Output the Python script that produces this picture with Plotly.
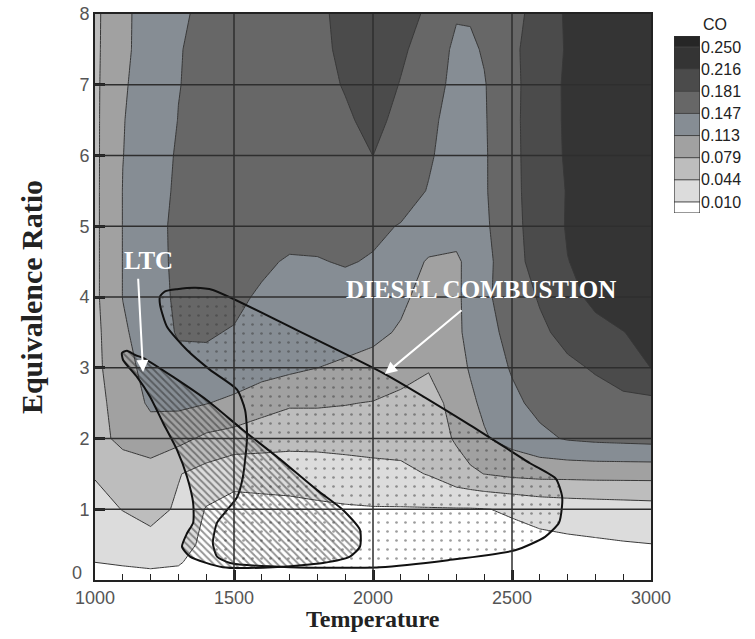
import plotly.graph_objects as go

# Temperature (K) grid columns and equivalence-ratio grid rows
TEMPERATURE = [1000, 1100, 1200, 1300, 1400, 1500, 1600, 1700, 1800, 1900, 2000,
               2100, 2200, 2300, 2350, 2400, 2500, 2600, 2700, 2800, 2900, 3000]
EQUIV_RATIO = [0, 0.25, 0.5, 1, 1.5, 2, 2.5, 3, 3.5, 4, 4.5, 5, 5.5, 6, 6.5, 7, 7.5, 8]

# CO mass fraction, one row per equivalence ratio
CO = [
    [0.002, 0.002, 0.003, 0.002, 0, 0, 0, 0, 0, 0, 0, 0, 0, 0, 0, 0, 0, 0, 0, 0, 0, 0],
    [0.010, 0.012, 0.014, 0.012, 0, 0, 0, 0, 0, 0, 0, 0, 0, 0, 0, 0, 0, 0, 0.001, 0.002, 0.003, 0.004],
    [0.025, 0.030, 0.033, 0.025, 0.001, 0, 0, 0, 0, 0, 0, 0, 0, 0, 0, 0, 0.001, 0.002, 0.004, 0.006, 0.008, 0.0095],
    [0.036, 0.045, 0.055, 0.040, 0.008, 0.002, 0.003, 0.004, 0.006, 0.007, 0.008, 0.008, 0.008, 0.008, 0.008, 0.009, 0.013, 0.020, 0.024, 0.026, 0.028, 0.030],
    [0.046, 0.058, 0.064, 0.046, 0.032, 0.018, 0.019, 0.020, 0.022, 0.028, 0.033, 0.036, 0.046, 0.066, 0.073, 0.079, 0.086, 0.089, 0.089, 0.090, 0.090, 0.090],
    [0.066, 0.088, 0.097, 0.088, 0.072, 0.066, 0.062, 0.058, 0.058, 0.058, 0.058, 0.058, 0.062, 0.082, 0.095, 0.110, 0.125, 0.140, 0.150, 0.154, 0.156, 0.158],
    [0.068, 0.093, 0.118, 0.120, 0.114, 0.105, 0.090, 0.082, 0.082, 0.080, 0.077, 0.070, 0.070, 0.086, 0.108, 0.118, 0.140, 0.156, 0.166, 0.171, 0.172, 0.172],
    [0.070, 0.102, 0.124, 0.138, 0.140, 0.136, 0.128, 0.120, 0.113, 0.108, 0.104, 0.092, 0.080, 0.104, 0.115, 0.128, 0.150, 0.163, 0.176, 0.184, 0.200, 0.216],
    [0.070, 0.108, 0.130, 0.150, 0.150, 0.145, 0.135, 0.130, 0.128, 0.125, 0.119, 0.110, 0.098, 0.108, 0.120, 0.138, 0.155, 0.176, 0.190, 0.205, 0.215, 0.225],
    [0.072, 0.1135, 0.128, 0.155, 0.160, 0.155, 0.142, 0.136, 0.133, 0.132, 0.128, 0.118, 0.103, 0.108, 0.122, 0.140, 0.165, 0.184, 0.205, 0.224, 0.232, 0.236],
    [0.072, 0.1135, 0.128, 0.158, 0.160, 0.158, 0.154, 0.143, 0.145, 0.150, 0.144, 0.128, 0.110, 0.110, 0.118, 0.135, 0.172, 0.192, 0.215, 0.226, 0.234, 0.238],
    [0.072, 0.1135, 0.127, 0.160, 0.162, 0.163, 0.163, 0.163, 0.160, 0.158, 0.155, 0.145, 0.132, 0.120, 0.122, 0.140, 0.176, 0.190, 0.219, 0.228, 0.236, 0.240],
    [0.072, 0.1135, 0.126, 0.155, 0.160, 0.162, 0.163, 0.164, 0.166, 0.168, 0.170, 0.165, 0.145, 0.128, 0.128, 0.143, 0.176, 0.192, 0.218, 0.231, 0.238, 0.242],
    [0.072, 0.1125, 0.125, 0.152, 0.160, 0.163, 0.165, 0.167, 0.170, 0.175, 0.1815, 0.170, 0.152, 0.128, 0.128, 0.143, 0.176, 0.193, 0.221, 0.232, 0.239, 0.243],
    [0.072, 0.112, 0.123, 0.148, 0.159, 0.163, 0.165, 0.168, 0.172, 0.178, 0.188, 0.175, 0.157, 0.130, 0.130, 0.144, 0.176, 0.194, 0.222, 0.233, 0.240, 0.244],
    [0.072, 0.110, 0.125, 0.146, 0.158, 0.162, 0.165, 0.168, 0.174, 0.183, 0.196, 0.180, 0.163, 0.137, 0.134, 0.145, 0.175, 0.195, 0.222, 0.233, 0.240, 0.244],
    [0.072, 0.106, 0.128, 0.145, 0.158, 0.163, 0.166, 0.170, 0.176, 0.186, 0.198, 0.186, 0.169, 0.140, 0.142, 0.150, 0.178, 0.190, 0.220, 0.233, 0.240, 0.244],
    [0.072, 0.104, 0.131, 0.140, 0.157, 0.162, 0.165, 0.170, 0.175, 0.190, 0.200, 0.190, 0.178, 0.150, 0.150, 0.160, 0.176, 0.188, 0.222, 0.235, 0.240, 0.245],
]

# Contour levels shown in the legend
CO_LEVELS = [0.010, 0.044, 0.079, 0.113, 0.147, 0.181, 0.216, 0.250]
# Flood colours from below the lowest level up to above the highest level
BAND_COLORS = ["#ffffff", "#dcdcdc", "#bdbdbd", "#a1a1a1", "#868d94",
               "#676767", "#4b4b4b", "#343434", "#262626"]

# Combustion regime outlines (temperature, equivalence ratio)
DIESEL_T = [1234, 1234, 1252, 1295, 1360, 1424, 1737, 2043, 2349, 2565, 2658, 2680,
            2680, 2669, 2619, 2511, 2270, 2025, 1701, 1486, 1439, 1424, 1439, 1475,
            1511, 1532, 1547, 1540, 1511, 1414, 1331, 1259, 1234]
DIESEL_PHI = [3.89, 4.01, 4.08, 4.11, 4.13, 4.10, 3.51, 2.91, 2.19, 1.65, 1.43, 1.19,
              1.05, 0.81, 0.61, 0.42, 0.28, 0.18, 0.18, 0.24, 0.33, 0.52, 0.81, 0.99,
              1.17, 1.46, 2.02, 2.40, 2.69, 2.97, 3.25, 3.58, 3.89]
LTC_T = [1097, 1115, 1144, 1173, 1281, 1403, 1532, 1655, 1799, 1892, 1953, 1953,
         1917, 1820, 1640, 1460, 1342, 1313, 1331, 1353, 1353, 1331, 1295, 1245,
         1198, 1151, 1101, 1097]
LTC_PHI = [3.21, 3.24, 3.18, 3.14, 2.87, 2.54, 2.12, 1.74, 1.27, 0.99, 0.71, 0.47,
           0.33, 0.24, 0.18, 0.18, 0.33, 0.47, 0.66, 0.81, 1.09, 1.46, 1.84, 2.22,
           2.59, 2.87, 3.11, 3.21]

X_TICKS = [1000, 1500, 2000, 2500, 3000]
Y_TICKS = [0, 1, 2, 3, 4, 5, 6, 7, 8]

level_step = (CO_LEVELS[-1] - CO_LEVELS[0]) / (len(CO_LEVELS) - 1)
level_values = [CO_LEVELS[0] + k * level_step for k in range(len(CO_LEVELS))]
n_bands = len(BAND_COLORS) - 1
colorscale = [[k / n_bands, c] for k, c in enumerate(BAND_COLORS)]
legend_lo = level_values[0] - level_step / 2
legend_hi = level_values[-1] + level_step / 2

# Page geometry (pixels)
W, H = 755, 639
PL, PT, PB = 95, 14, 580          # paper left / top / bottom
PAPER_R = 750                     # paper right
MAIN_R = 651                      # right edge of the contour panel
LEG_L, LEG_R, LEG_T, LEG_B = 674, 700, 36, 213
pw, ph = PAPER_R - PL, PB - PT


def px_x(p):
    return (p - PL) / pw


def px_y(p):
    return (PB - p) / ph


fig = go.Figure()

fig.add_trace(go.Contour(
    x=TEMPERATURE, y=EQUIV_RATIO, z=CO,
    autocontour=False,
    contours=dict(start=CO_LEVELS[0], end=CO_LEVELS[-1], size=level_step,
                  coloring="fill", showlines=True),
    zmin=legend_lo, zmax=legend_hi,
    line=dict(color="#383838", width=1, smoothing=0),
    colorscale=colorscale, showscale=False,
    hoverinfo="skip",
))

fig.add_trace(go.Scatter(
    x=DIESEL_T, y=DIESEL_PHI, mode="lines", fill="toself",
    line=dict(color="#111", width=2, shape="spline", smoothing=0.6),
    fillcolor="rgba(0,0,0,0)",
    fillpattern=dict(shape=".", size=9, solidity=0.07, fgcolor="#3a3a3a",
                     bgcolor="rgba(0,0,0,0)", fillmode="overlay"),
    hoverinfo="skip", showlegend=False,
))

fig.add_trace(go.Scatter(
    x=LTC_T, y=LTC_PHI, mode="lines", fill="toself",
    line=dict(color="#111", width=2, shape="spline", smoothing=0.6),
    fillcolor="rgba(0,0,0,0)",
    fillpattern=dict(shape="\\", size=5, solidity=0.38, fgcolor="#2a2a2a",
                     bgcolor="rgba(0,0,0,0)", fillmode="overlay"),
    hoverinfo="skip", showlegend=False,
))

# Legend strip: one box per flood band, edges on the contour levels
legend_edges = [legend_lo] + level_values + [legend_hi]
fig.add_trace(go.Heatmap(
    x=[0, 1], y=legend_edges, z=[[k] for k in range(len(BAND_COLORS))],
    zmin=0, zmax=n_bands, colorscale=colorscale, showscale=False,
    xaxis="x2", yaxis="y2", hoverinfo="skip",
))

shapes = []
# Grid lines over the flooded contours
for t in X_TICKS[1:-1]:
    shapes.append(dict(type="line", xref="x", yref="y", x0=t, x1=t, y0=Y_TICKS[0], y1=Y_TICKS[-1],
                       line=dict(color="#2e2e2e", width=1.5), layer="above"))
for p in Y_TICKS[1:-1]:
    shapes.append(dict(type="line", xref="x", yref="y", x0=X_TICKS[0], x1=X_TICKS[-1], y0=p, y1=p,
                       line=dict(color="#2e2e2e", width=1.5), layer="above"))
# Legend box separators and outline
for v in level_values:
    shapes.append(dict(type="line", xref="x2", yref="y2", x0=0, x1=1, y0=v, y1=v,
                       line=dict(color="#444", width=1), layer="above"))
shapes.append(dict(type="rect", xref="x2", yref="y2", x0=0, x1=1, y0=legend_lo, y1=legend_hi,
                   line=dict(color="#333", width=1.2), layer="above"))

tick_font = dict(family="Liberation Sans", size=18, color="#555")
label_font = dict(family="Liberation Serif", size=25, color="white")
annotations = [
    dict(x=1194, y=4.52, xref="x", yref="y", text="<b>LTC</b>", showarrow=False, font=label_font),
    dict(x=2390, y=4.11, xref="x", yref="y", text="<b>DIESEL COMBUSTION</b>", showarrow=False,
         font=label_font),
    dict(x=1173, y=2.94, xref="x", yref="y", ax=1155, ay=4.28, axref="x", ayref="y", text="",
         showarrow=True, arrowhead=2, arrowsize=1.2, arrowwidth=2, arrowcolor="white", standoff=0),
    dict(x=2043, y=2.91, xref="x", yref="y", ax=2324, ay=3.83, axref="x", ayref="y", text="",
         showarrow=True, arrowhead=2, arrowsize=1.2, arrowwidth=2, arrowcolor="white", standoff=0),
    # legend heading
    dict(x=px_x(701), y=px_y(24), xref="paper", yref="paper", xanchor="left", yanchor="middle",
         text="CO", showarrow=False, font=dict(family="Liberation Sans", size=16, color="#222")),
    # origin label of the y axis, lifted clear of the first temperature label
    dict(x=px_x(84), y=0.1, xref="paper", yref="y", xanchor="right", yanchor="middle",
         text=str(Y_TICKS[0]), showarrow=False, font=tick_font),
    # axis title under the temperature labels
    dict(x=px_x((PL + MAIN_R) / 2), y=px_y(619), xref="paper", yref="paper",
         xanchor="center", yanchor="middle", text="<b>Temperature</b>", showarrow=False,
         font=dict(family="Liberation Serif", size=24, color="#222")),
]

fig.update_layout(
    width=W, height=H,
    margin=dict(l=PL, r=W - PAPER_R, t=PT, b=H - PB, autoexpand=False),
    paper_bgcolor="white", plot_bgcolor="white",
    showlegend=False,
    shapes=shapes, annotations=annotations,
    xaxis=dict(
        domain=[0, px_x(MAIN_R)], automargin=False,
        range=[X_TICKS[0], X_TICKS[-1]], tickvals=X_TICKS,
        ticks="inside", ticklen=10, tickwidth=3, tickcolor="#222",
        minor=dict(dtick=100, ticks="inside", ticklen=6, tickwidth=1, tickcolor="#222", showgrid=False),
        showgrid=False, zeroline=False,
        showline=True, linecolor="#222", linewidth=2, mirror=True,
        layer="above traces", tickfont=tick_font,
    ),
    yaxis=dict(
        automargin=False,
        range=[Y_TICKS[0], Y_TICKS[-1]], tickvals=Y_TICKS,
        ticktext=["" if v == Y_TICKS[0] else str(v) for v in Y_TICKS],
        ticks="inside", ticklen=10, tickwidth=3, tickcolor="#222",
        showgrid=False, zeroline=False,
        showline=True, linecolor="#222", linewidth=2, mirror=True,
        layer="above traces", tickfont=tick_font,
        title=dict(text="<b>Equivalence Ratio</b>",
                   font=dict(family="Liberation Serif", size=30, color="#222"), standoff=28),
    ),
    xaxis2=dict(domain=[px_x(LEG_L), px_x(LEG_R)], anchor="y2", range=[0, 1], automargin=False,
                showticklabels=False, showgrid=False, zeroline=False, showline=False, ticks=""),
    yaxis2=dict(domain=[px_y(LEG_B), px_y(LEG_T)], anchor="x2", side="right", automargin=False,
                range=[legend_lo, legend_hi], tickvals=level_values,
                ticktext=[f"{v:.3f}" for v in CO_LEVELS], ticks="",
                showgrid=False, zeroline=False, showline=False,
                tickfont=dict(family="Liberation Sans", size=16, color="#222")),
)

fig.write_html("out.html")
